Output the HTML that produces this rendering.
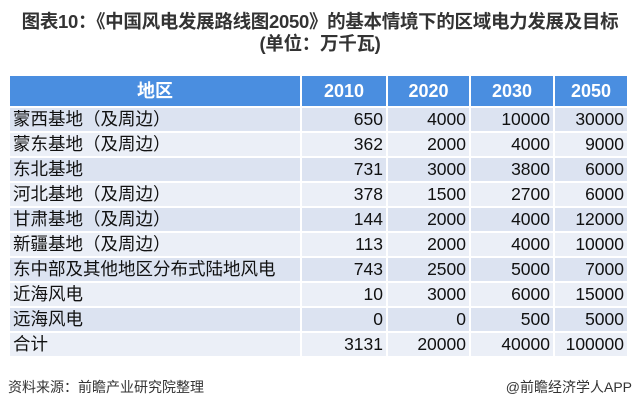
<!DOCTYPE html>
<html><head><meta charset="utf-8"><style>
body{margin:0;width:640px;height:412px;background:#fff;font-family:"Liberation Sans","Noto Sans CJK SC",sans-serif;overflow:hidden;position:relative}
.t{position:absolute;left:0;width:640px;text-align:center;font-weight:bold;color:#333;font-size:18.5px;line-height:21px;letter-spacing:-0.3px}
table{position:absolute;left:8px;top:74px;border-collapse:collapse;width:619px;font-size:17.5px;color:#111;table-layout:fixed}
td,th{padding:0 3px;border:2px solid #fff;height:23px;line-height:23px;white-space:nowrap;overflow:visible}
th{background:#4a8ee0;color:#fff;font-weight:bold;height:30px;font-size:18px}
td{text-align:right}
td:first-child{text-align:left}
tr:nth-child(even) td{background:#dce3f1}
tr:nth-child(odd) td{background:#ebeff7}
.f{position:absolute;top:377px;font-size:14px;color:#333}
</style></head><body>
<div class="t" style="top:11px">图表10：《中国风电发展路线图2050》的基本情境下的区域电力发展及目标</div>
<div class="t" style="top:33px">(单位：万千瓦)</div>
<table>
<colgroup><col style="width:292px"><col style="width:86px"><col style="width:83px"><col style="width:84px"><col style="width:74px"></colgroup>
<tr><th>地区</th><th>2010</th><th>2020</th><th>2030</th><th>2050</th></tr>
<tr><td>蒙西基地（及周边）</td><td>650</td><td>4000</td><td>10000</td><td>30000</td></tr>
<tr><td>蒙东基地（及周边）</td><td>362</td><td>2000</td><td>4000</td><td>9000</td></tr>
<tr><td>东北基地</td><td>731</td><td>3000</td><td>3800</td><td>6000</td></tr>
<tr><td>河北基地（及周边）</td><td>378</td><td>1500</td><td>2700</td><td>6000</td></tr>
<tr><td>甘肃基地（及周边）</td><td>144</td><td>2000</td><td>4000</td><td>12000</td></tr>
<tr><td>新疆基地（及周边）</td><td>113</td><td>2000</td><td>4000</td><td>10000</td></tr>
<tr><td>东中部及其他地区分布式陆地风电</td><td>743</td><td>2500</td><td>5000</td><td>7000</td></tr>
<tr><td>近海风电</td><td>10</td><td>3000</td><td>6000</td><td>15000</td></tr>
<tr><td>远海风电</td><td>0</td><td>0</td><td>500</td><td>5000</td></tr>
<tr><td>合计</td><td>3131</td><td>20000</td><td>40000</td><td>100000</td></tr>
</table>
<div class="f" style="left:8px">资料来源：前瞻产业研究院整理</div>
<div class="f" style="right:8px">@前瞻经济学人APP</div>
</body></html>
